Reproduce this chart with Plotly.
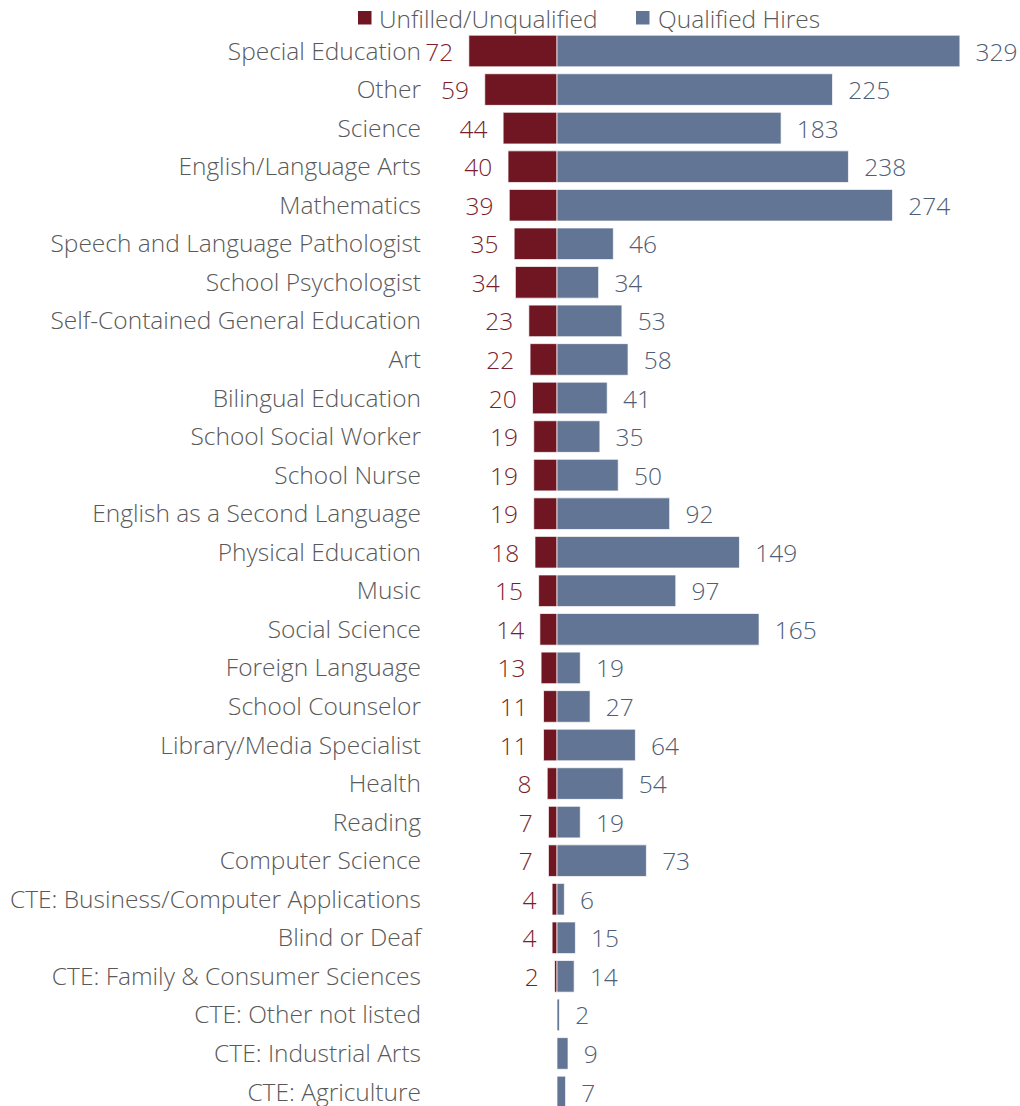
import plotly.graph_objects as go

categories = [
    "Special Education", "Other", "Science", "English/Language Arts", "Mathematics",
    "Speech and Language Pathologist", "School Psychologist",
    "Self-Contained General Education", "Art", "Bilingual Education",
    "School Social Worker", "School Nurse", "English as a Second Language",
    "Physical Education", "Music", "Social Science", "Foreign Language",
    "School Counselor", "Library/Media Specialist", "Health", "Reading",
    "Computer Science", "CTE: Business/Computer Applications", "Blind or Deaf",
    "CTE: Family & Consumer Sciences", "CTE: Other not listed",
    "CTE: Industrial Arts", "CTE: Agriculture",
]
unfilled = [72, 59, 44, 40, 39, 35, 34, 23, 22, 20, 19, 19, 19, 18, 15, 14, 13,
            11, 11, 8, 7, 7, 4, 4, 2, 0, 0, 0]
qualified = [329, 225, 183, 238, 274, 46, 34, 53, 58, 41, 35, 50, 92, 149, 97,
             165, 19, 27, 64, 54, 19, 73, 6, 15, 14, 2, 9, 7]
series_names = ["Unfilled/Unqualified", "Qualified Hires"]

RED = "#6F1622"
BLUE = "#627594"
FONT = "Open Sans"
FW = 300
FS = 24.5
NB = "\u00a0"
W, H = 1020, 1106

fig = go.Figure()
fig.add_trace(go.Bar(
    y=categories, x=[-v for v in unfilled], orientation="h",
    name=series_names[0], showlegend=False,
    marker=dict(color=RED, line=dict(color="rgba(255,255,255,0.7)", width=1)),
    text=[(str(v) + NB * 2) if v > 0 else "" for v in unfilled],
    textposition="outside", constraintext="none", cliponaxis=False,
    textfont=dict(color="#7A1E2A", size=FS, family=FONT, weight=FW),
    hoverinfo="skip",
))
fig.add_trace(go.Bar(
    y=categories, x=qualified, orientation="h",
    name=series_names[1], showlegend=False,
    marker=dict(color=BLUE, line=dict(color="rgba(255,255,255,0.7)", width=1)),
    text=[NB * 2 + str(v) for v in qualified],
    textposition="outside", constraintext="none", cliponaxis=False,
    textfont=dict(color="#4F5D75", size=FS, family=FONT, weight=FW),
    hoverinfo="skip",
))

# Custom legend (swatches + labels) in paper coordinates
legend_items = [(series_names[0], RED, 358, 377), (series_names[1], BLUE, 636, 656)]
for name, col, sx, tx in legend_items:
    fig.add_shape(type="rect", xref="paper", yref="paper",
                  x0=sx / W, x1=(sx + 13.5) / W, y0=1 - 24.5 / H, y1=1 - 11 / H,
                  fillcolor=col, line=dict(width=0))
    fig.add_annotation(text=name, xref="paper", yref="paper", x=tx / W, y=1 - 18 / H,
                       xanchor="left", yanchor="middle", showarrow=False,
                       font=dict(size=FS, color="#595959", family=FONT, weight=FW))

fig.update_layout(
    width=W, height=H,
    barmode="relative", bargap=0.18,
    plot_bgcolor="white", paper_bgcolor="white",
    margin=dict(l=0, r=0, t=0, b=0),
    font=dict(family=FONT, size=FS, color="#595959", weight=FW),
    showlegend=False,
    xaxis=dict(domain=[421 / W, 1.0], range=[-111.07, 378.1], visible=False,
               fixedrange=True),
    yaxis=dict(range=[27.363, -1.323], anchor="free", position=421 / W,
               showgrid=False, zeroline=False, showline=False, ticks="",
               tickfont=dict(size=FS, color="#595959", family=FONT, weight=FW),
               automargin=False, fixedrange=True),
)

fig.write_html("out.html",
               config={"displayModeBar": False, "staticPlot": True},
               post_script="document.body.style.margin='0';"
                           "document.body.style.overflow='hidden';")
